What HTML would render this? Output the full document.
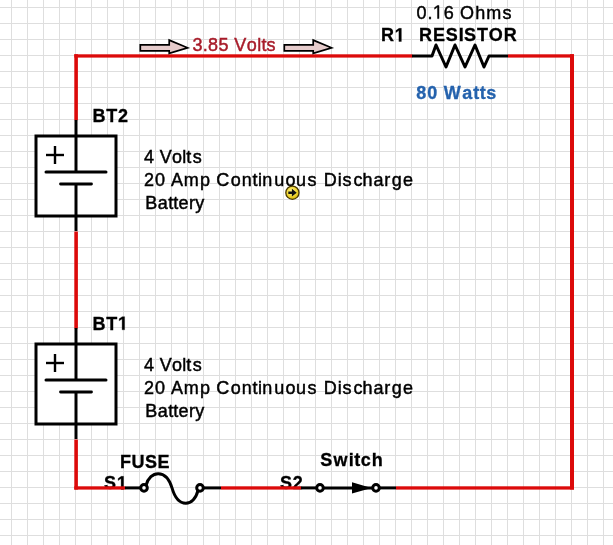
<!DOCTYPE html>
<html><head><meta charset="utf-8">
<style>
html,body{margin:0;padding:0;background:#fff;}
body{width:613px;height:545px;overflow:hidden;position:relative;}
svg{position:absolute;left:0;top:0;will-change:transform;}
text{font-family:"Liberation Sans",sans-serif;}
</style></head><body>
<svg width="613" height="545" viewBox="0 0 613 545">
<defs>
<pattern id="g" x="11" y="7" width="16" height="16" patternUnits="userSpaceOnUse">
<rect x="0" y="0" width="1" height="16" fill="#dedede"/>
<rect x="0" y="0" width="16" height="1" fill="#dedede"/>
</pattern>
</defs>
<rect width="613" height="545" fill="#fff"/>
<rect width="613" height="545" fill="url(#g)"/>

<g transform="translate(0,489.50) scale(1,1.060) translate(0,-489.50)"><text x="104.10 116.91" y="489.50" font-size="18" font-weight="bold" fill="#000" stroke="#000" stroke-width="0.3">S </text>
<path transform="translate(116.91,489.50) scale(0.00879,-0.00879)" d="M478,0V1170L140,959V1180L493,1409H759V0Z" fill="#000" stroke="#000" stroke-width="34.1"/></g>
<g transform="translate(0,489.50) scale(1,1.060) translate(0,-489.50)"><text x="280.10 292.64" y="489.50" font-size="18" font-weight="bold" fill="#000" stroke="#000" stroke-width="0.3">S2</text></g>

<!-- red wires -->
<g fill="#dc0a0a">
<rect x="74.3" y="54.3" width="338" height="3.3"/>
<rect x="508" y="54.3" width="66" height="3.3"/>
<rect x="570" y="54.2" width="4" height="435.3"/>
<rect x="396" y="486.3" width="178" height="3.3"/>
<rect x="221" y="486.3" width="80" height="3.3"/>
<rect x="74.3" y="486.3" width="51" height="3.3"/>
<rect x="74.3" y="54.2" width="3.6" height="66"/>
<rect x="74.3" y="231.5" width="3.6" height="97"/>
<rect x="74.3" y="439.5" width="3.6" height="50.1"/>
</g>

<!-- batteries -->
<g stroke="#000" stroke-width="3" fill="none">
<g id="bt2">
<rect x="36" y="136" width="80" height="80" fill="#fff"/>
<line x1="76" y1="120" x2="76" y2="172"/>
<line x1="76" y1="184" x2="76" y2="231"/>
<line x1="46" y1="172" x2="106" y2="172" stroke-linecap="round"/>
<line x1="60.5" y1="184" x2="91.5" y2="184" stroke-linecap="round" stroke-width="2.8"/>
<line x1="46" y1="155" x2="64" y2="155" stroke-width="2.4"/>
<line x1="55" y1="146" x2="55" y2="164" stroke-width="2.4"/>
</g>
<g transform="translate(0,208)">
<rect x="36" y="136" width="80" height="80" fill="#fff"/>
<line x1="76" y1="120" x2="76" y2="172"/>
<line x1="76" y1="184" x2="76" y2="231"/>
<line x1="46" y1="172" x2="106" y2="172" stroke-linecap="round"/>
<line x1="60.5" y1="184" x2="91.5" y2="184" stroke-linecap="round" stroke-width="2.8"/>
<line x1="46" y1="155" x2="64" y2="155" stroke-width="2.4"/>
<line x1="55" y1="146" x2="55" y2="164" stroke-width="2.4"/>
</g>
</g>

<!-- resistor -->
<polyline points="412,56 432,56 436,45 446,67 455,45 465,67 475,45 484,67 489,56 508,56" stroke="#000" stroke-width="3" fill="none" stroke-linejoin="round"/>

<!-- fuse -->
<g stroke="#000" stroke-width="3" fill="none">
<line x1="125" y1="487.9" x2="141" y2="487.9"/>
<circle cx="144" cy="487.9" r="3.3" fill="#fff"/>
<path d="M146,485.4 C150,470.4 166,468.4 172,487.9 C178,509 194,507 198,490.4"/>
<circle cx="200" cy="487.9" r="3.3" fill="#fff"/>
<line x1="203" y1="487.9" x2="221" y2="487.9"/>
</g>

<!-- switch -->
<g stroke="#000" stroke-width="3" fill="none">
<line x1="301" y1="487.9" x2="317" y2="487.9"/>
<circle cx="320" cy="487.9" r="3.3" fill="#fff"/>
<line x1="323" y1="487.9" x2="372" y2="487.9"/>
<circle cx="376" cy="487.9" r="3.3" fill="#fff"/>
<line x1="379" y1="487.9" x2="396" y2="487.9"/>
</g>
<polygon points="352,482.3 371.5,487.9 352,493.5" fill="#000"/>

<!-- arrows -->
<g stroke="#000" stroke-width="1.7" fill="#e6cccc" stroke-linejoin="miter">
<polygon points="140.3,44.8 169.2,44.8 169.2,40.1 187.6,47.8 169.2,53.4 169.2,50.8 140.3,50.8"/>
<polygon points="284.3,44.8 313.2,44.8 313.2,40.1 331.6,47.8 313.2,53.4 313.2,50.8 284.3,50.8"/>
</g>

<!-- text -->
<g transform="translate(0,50.80) scale(1,1.060) translate(0,-50.80)"><text x="192.40 202.86 208.08 218.53 228.99 234.21 246.75 257.21 261.39 266.61" y="50.80" font-size="18" font-weight="normal" fill="#a81c2a" stroke="#a81c2a" stroke-width="0.45">3.85 Volts</text></g>
<g transform="translate(0,18.60) scale(1,1.060) translate(0,-18.60)"><text x="416.50 427.40 432.85 443.75 454.65 460.09 475.34 486.24 502.57" y="18.60" font-size="18" font-weight="normal" fill="#000" stroke="#000" stroke-width="0.45">0. 6 Ohms</text>
<path transform="translate(432.85,18.60) scale(0.00879,-0.00879)" d="M530,0V1237L197,1010V1180L530,1409H696V0Z" fill="#000" stroke="#000" stroke-width="51.2"/></g>
<g transform="translate(0,41.50) scale(1,1.060) translate(0,-41.50)"><text x="380.90 394.69" y="41.50" font-size="18" font-weight="bold" fill="#000" stroke="#000" stroke-width="0.3">R </text>
<path transform="translate(394.69,41.50) scale(0.00879,-0.00879)" d="M478,0V1170L140,959V1180L493,1409H759V0Z" fill="#000" stroke="#000" stroke-width="34.1"/></g>
<g transform="translate(0,40.80) scale(1,1.060) translate(0,-40.80)"><text x="419.00 432.94 445.81 458.68 464.05 476.92 488.71 503.72" y="40.80" font-size="18" font-weight="bold" fill="#000" stroke="#000" stroke-width="0.3">RESISTOR</text></g>
<g transform="translate(0,98.60) scale(1,1.060) translate(0,-98.60)"><text x="416.30 427.26 438.21 443.69 462.28 473.24 479.80 486.36" y="98.60" font-size="18" font-weight="bold" fill="#2462ad" stroke="#2462ad" stroke-width="0.3">80 Watts</text></g>
<g transform="translate(0,121.80) scale(1,1.060) translate(0,-121.80)"><text x="92.60 106.32 117.93" y="121.80" font-size="18" font-weight="bold" fill="#000" stroke="#000" stroke-width="0.3">BT2</text></g>
<g transform="translate(0,329.80) scale(1,1.060) translate(0,-329.80)"><text x="92.60 106.32 117.93" y="329.80" font-size="18" font-weight="bold" fill="#000" stroke="#000" stroke-width="0.3">BT </text>
<path transform="translate(117.93,329.80) scale(0.00879,-0.00879)" d="M478,0V1170L140,959V1180L493,1409H759V0Z" fill="#000" stroke="#000" stroke-width="34.1"/></g>
<g transform="translate(0,163.10) scale(1,1.060) translate(0,-163.10)"><text x="144.00 154.01 159.80 172.10 182.20 186.20 192.80" y="163.10" font-size="18" font-weight="normal" fill="#000" stroke="#000" stroke-width="0.45">4 Volts</text></g>
<g transform="translate(0,185.70) scale(1,1.060) translate(0,-185.70)"><text x="144.00 155.10 165.11 171.10 183.70 199.90 209.91 216.30 230.70 241.70 252.40 258.10 262.20 274.20 285.40 295.90 307.50 316.50 323.80 337.70 342.40 353.50 362.50 373.60 384.30 391.70 403.00" y="185.70" font-size="18" font-weight="normal" fill="#000" stroke="#000" stroke-width="0.45">20 Amp Continuous Discharge</text></g>
<g transform="translate(0,208.70) scale(1,1.060) translate(0,-208.70)"><text x="145.30 157.77 168.17 173.37 178.56 188.96 195.19" y="208.70" font-size="18" font-weight="normal" fill="#000" stroke="#000" stroke-width="0.45">Battery</text></g>
<g transform="translate(0,371.10) scale(1,1.060) translate(0,-371.10)"><text x="144.00 154.01 159.80 172.10 182.20 186.20 192.80" y="371.10" font-size="18" font-weight="normal" fill="#000" stroke="#000" stroke-width="0.45">4 Volts</text></g>
<g transform="translate(0,393.70) scale(1,1.060) translate(0,-393.70)"><text x="144.00 155.10 165.11 171.10 183.70 199.90 209.91 216.30 230.70 241.70 252.40 258.10 262.20 274.20 285.40 295.90 307.50 316.50 323.80 337.70 342.40 353.50 362.50 373.60 384.30 391.70 403.00" y="393.70" font-size="18" font-weight="normal" fill="#000" stroke="#000" stroke-width="0.45">20 Amp Continuous Discharge</text></g>
<g transform="translate(0,416.70) scale(1,1.060) translate(0,-416.70)"><text x="145.30 157.77 168.17 173.37 178.56 188.96 195.19" y="416.70" font-size="18" font-weight="normal" fill="#000" stroke="#000" stroke-width="0.45">Battery</text></g>
<g transform="translate(0,467.80) scale(1,1.060) translate(0,-467.80)"><text x="119.90 131.38 144.96 157.50" y="467.80" font-size="18" font-weight="bold" fill="#000" stroke="#000" stroke-width="0.3">FUSE</text></g>
<g transform="translate(0,466.00) scale(1,1.060) translate(0,-466.00)"><text x="320.30 333.44 348.76 354.24 360.80 371.75" y="466.00" font-size="18" font-weight="bold" fill="#000" stroke="#000" stroke-width="0.3">Switch</text></g>

<!-- yellow icon -->
<defs><radialGradient id="yg" cx="0.45" cy="0.4" r="0.6"><stop offset="0" stop-color="#fff690"/><stop offset="0.6" stop-color="#f2d838"/><stop offset="1" stop-color="#d8b800"/></radialGradient></defs>
<circle cx="292.4" cy="192.7" r="6.6" fill="url(#yg)" stroke="#4a3a00" stroke-width="1.3"/>
<path d="M288.3,191.5 h3.6 v-2.7 l4.8,3.9 l-4.8,3.9 v-2.7 h-3.6 z" fill="#111"/>
</svg>
</body></html>
